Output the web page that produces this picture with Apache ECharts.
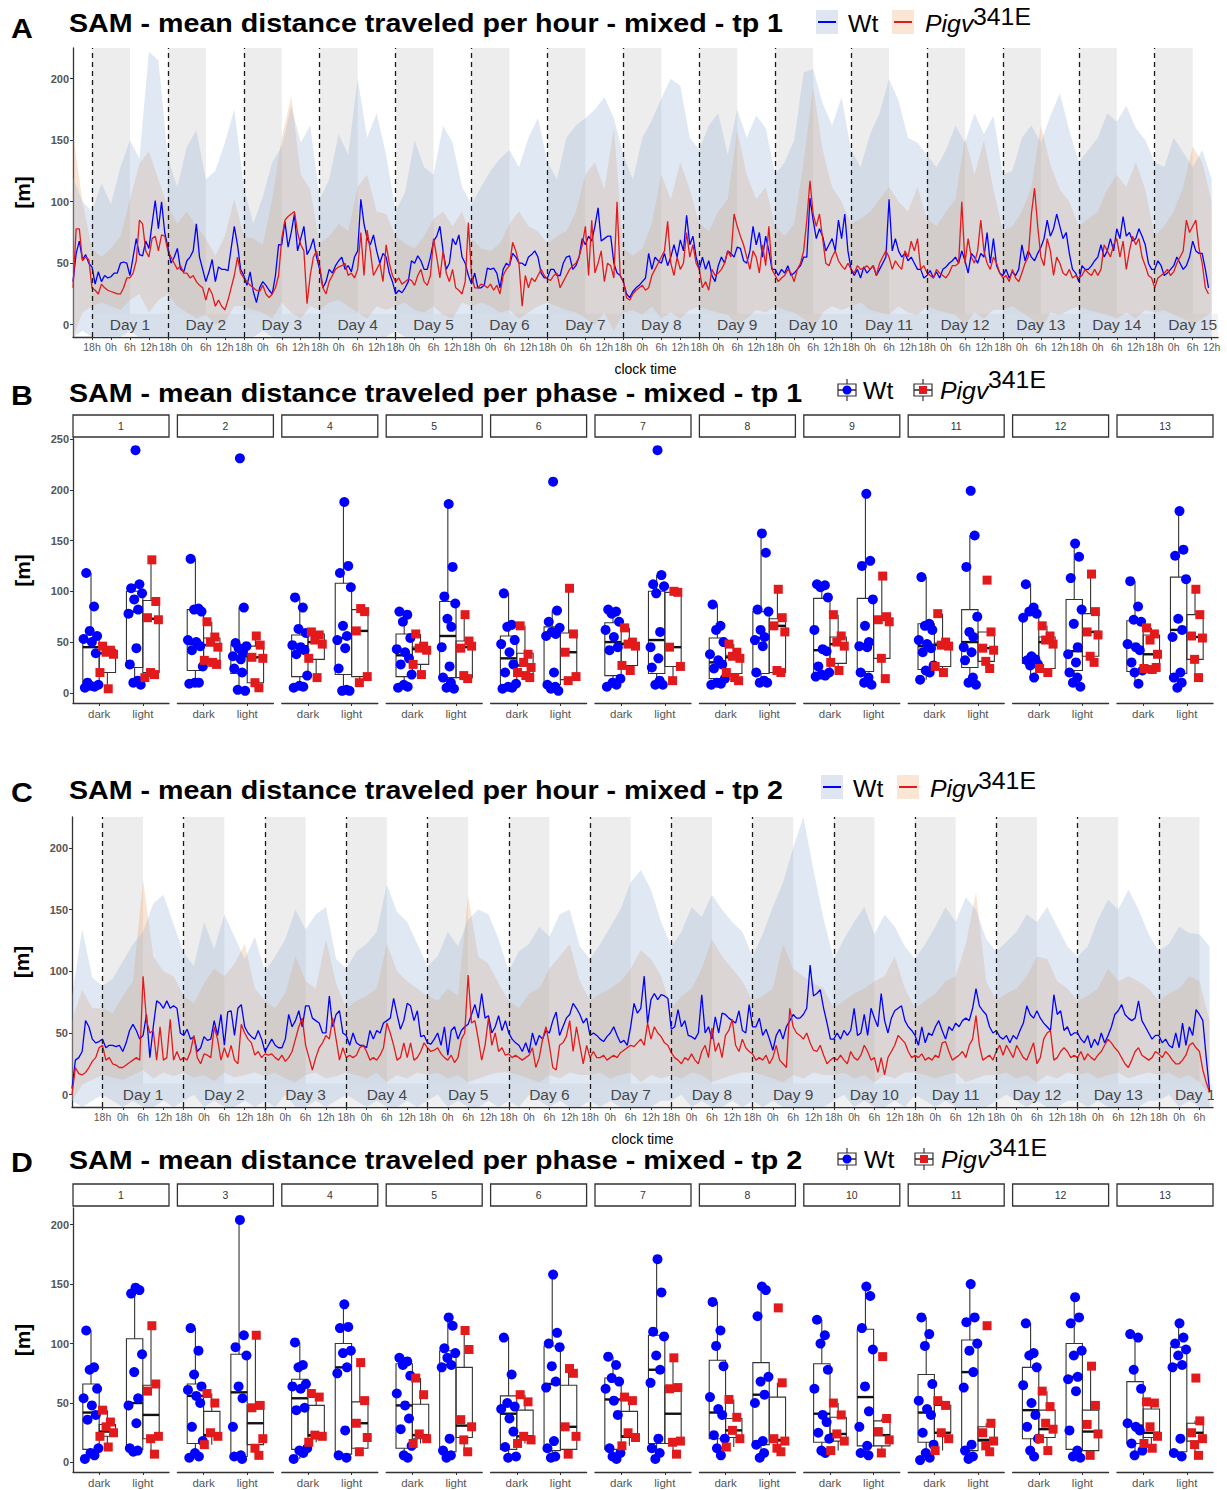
<!DOCTYPE html>
<html><head><meta charset="utf-8">
<script src="https://cdn.jsdelivr.net/npm/echarts@6/dist/echarts.min.js"></script>
<style>html,body{margin:0;padding:0;background:#fff}#c{width:1227px;height:1490px}</style>
</head><body><div id="c"></div>
<script>
// ---------------- DATA ----------------
const clockLabels = ['18h','0h','6h','12h'];
const dayLabels = ['Day 1','Day 2','Day 3','Day 4','Day 5','Day 6','Day 7','Day 8','Day 9','Day 10','Day 11','Day 12','Day 13','Day 14','Day 15'];
const phaseLabels = ['dark','light'];
const titles = ['SAM - mean distance traveled per hour - mixed - tp 1','SAM - mean distance traveled per phase - mixed - tp 1','SAM - mean distance traveled per hour - mixed - tp 2','SAM - mean distance traveled per phase - mixed - tp 2'];

// Panel A: hourly means, first value at hour -6 (hours counted from 18h of Day 1)
const A_t0 = -6;
const A_wt = [35,58,68,53,57,50,
47,33,43,35,40,38,39,42,42,50,51,50,40,55,70,57,56,68,62,82,101,78,100,75,
63,50,55,62,45,43,52,55,60,82,55,45,35,43,53,35,47,45,45,44,62,80,65,45,
40,32,43,27,18,30,35,32,28,25,40,65,65,84,63,75,90,60,70,80,57,62,70,55,
45,30,35,45,42,48,52,55,45,48,43,55,60,102,82,70,65,73,60,50,58,55,42,35,
25,28,26,30,35,52,50,56,52,45,45,55,68,72,80,60,45,50,70,65,73,55,50,40,
33,42,30,30,32,46,45,46,42,30,45,50,48,58,55,50,50,48,55,57,60,55,42,38,
38,45,45,40,40,50,55,56,45,48,55,70,65,72,68,80,95,68,70,72,72,50,42,40,
35,25,22,27,30,32,35,38,58,45,55,52,50,58,48,55,65,55,69,60,89,65,72,55,
45,55,45,52,40,35,48,55,50,60,58,55,63,62,52,50,60,80,65,75,55,72,60,45,
45,40,45,42,48,40,42,45,48,55,55,103,85,70,78,72,60,65,70,60,85,70,90,60,
45,40,45,38,47,42,45,48,40,45,50,55,102,60,70,60,55,58,52,55,50,45,45,38,
40,44,38,43,38,45,47,50,52,55,50,60,52,42,58,55,50,58,55,75,50,70,48,42,
40,45,38,43,40,45,65,52,60,55,52,58,63,70,85,72,78,90,80,70,75,58,45,42,
35,48,45,45,48,52,55,65,55,60,70,60,78,70,88,72,75,68,70,78,72,65,50,45,
45,52,48,40,42,45,48,55,50,45,48,55,68,60,58,58,45,30];
const A_pigv = [30,78,78,52,55,53,
30,28,25,33,30,28,27,26,25,25,30,38,38,42,52,85,82,60,55,70,72,60,73,72,
60,55,50,45,48,42,42,38,40,35,32,30,20,30,25,15,20,15,12,20,30,40,55,42,
38,35,32,30,28,27,32,25,22,25,30,40,70,85,88,90,92,75,65,60,17,40,55,60,
48,30,25,35,40,45,47,48,50,40,42,38,45,75,40,77,60,40,45,50,35,65,50,40,
35,38,33,35,37,36,32,40,45,35,32,40,70,55,38,60,42,35,45,30,28,25,35,83,
40,30,30,33,32,30,33,28,32,25,40,45,48,67,60,50,15,40,30,38,35,40,45,40,
37,36,40,42,30,35,40,45,48,50,55,65,80,40,85,42,50,60,35,50,48,38,100,40,
35,22,20,25,28,30,32,28,30,40,45,50,55,60,84,50,40,55,45,50,75,55,65,50,
45,30,35,28,45,40,42,45,50,60,55,90,80,72,65,55,45,60,55,42,65,48,80,45,
40,35,38,40,45,42,35,45,50,60,85,117,90,80,90,70,50,48,55,60,52,48,45,50,
45,42,48,45,46,48,45,48,40,50,55,60,55,45,52,48,45,60,55,68,60,70,45,48,
42,40,38,45,42,40,38,42,48,48,50,100,50,70,55,50,60,85,60,50,45,55,50,42,
38,40,35,45,38,35,42,50,55,90,111,80,55,48,70,60,40,55,50,42,40,45,38,40,
38,40,45,42,40,45,40,45,65,60,55,65,70,55,68,45,60,72,65,70,55,48,40,38,
30,38,40,42,45,40,43,50,55,60,85,75,80,85,62,50,30,25];
// Panel A ribbons: every 3 hours from hour -6
const A_rib_t0 = -6;
const A_wt_hi = [120,100,
92,115,98,128,150,135,222,215, 135,112,145,158,118,125,148,175, 112,82,104,132,145,178,148,162,
102,118,155,138,200,152,172,138, 92,108,150,128,122,162,148,112, 98,112,125,135,142,128,152,168,
132,118,152,162,168,175,185,168, 138,118,152,166,184,200,194,152, 142,162,172,138,175,152,170,160,
122,132,150,205,208,180,162,185, 142,128,155,172,200,182,152,148, 138,128,142,162,148,172,155,170,
122,125,152,162,148,170,188,158, 132,142,152,172,165,178,160,150, 132,128,152,140,128,142,118];
const A_wt_lo = [-15,-5,
-20,-25,-30,-25,-5,-30,-40,-35, -30,-20,-25,-35,-15,-20,-30,-10, -25,-15,-5,-20,-25,-35,-30,-30,
-20,-25,-30,-25,-40,-30,-35,-25, -5,-20,-35,-25,-20,-30,-35,-20, -25,-20,-25,-30,-25,-20,-25,-30,
-20,-25,-30,-35,-30,-25,-35,-30, -25,-10,-20,-25,-30,-35,-40,-30, -30,-25,-20,-15,-25,-30,-35,-30,
-20,-25,-30,-35,-40,-35,-30,-35, -20,-25,-30,-35,-40,-30,-25,-30, -25,-20,-25,-30,-20,-30,-25,-30,
-20,-15,-25,-30,-25,-30,-35,-25, -20,-25,-30,-35,-30,-35,-30,-25, -20,-25,-30,-25,-30,-25,-20];
const A_pigv_hi = [155,100,
62,55,62,72,102,131,141,118, 96,82,92,80,70,56,72,102, 72,70,65,102,152,186,122,110,
66,72,82,76,112,122,92,90, 72,66,62,72,86,92,80,92, 70,62,60,66,82,92,80,76,
66,72,76,92,122,132,110,160, 62,56,62,82,122,102,132,110, 82,76,92,102,158,122,102,112,
80,72,82,132,194,142,112,100, 82,86,92,102,112,100,92,112, 86,80,92,102,152,122,150,110,
76,80,92,112,162,130,110,100, 80,86,92,110,122,112,132,110, 72,80,92,112,145,132,100];
const A_pigv_lo = [-10,10,
15,18,15,12,20,25,10,20, 25,15,10,5,8,0,2,15, 15,12,10,5,18,10,5,15,
12,18,20,15,10,5,15,12, 15,18,12,10,15,8,5,18, 15,18,15,10,12,5,10,15,
18,15,12,10,5,0,10,-5, 10,12,8,15,5,10,5,12, 15,12,10,8,0,5,12,10,
15,12,10,5,-5,10,15,12, 15,18,12,10,8,15,10,8, 15,12,10,8,0,10,5,12,
12,15,10,5,-5,10,8,12, 15,12,10,8,5,10,5,12, 10,12,8,5,0,5,10];

// Panel C: hourly means, first value at hour -9
const C_t0 = -9;
const C_wt = [5,28,30,35,60,55,45,42,43,
45,38,40,40,39,40,35,42,52,57,52,45,48,65,30,55,76,74,70,76,70,72,70,50,
48,53,45,47,35,38,47,44,45,60,48,65,40,67,68,48,70,73,55,50,47,45,52,45,
35,40,45,40,38,38,45,65,55,60,68,55,72,72,62,60,58,50,50,80,55,65,68,50,
48,40,50,42,40,40,38,52,45,52,50,58,60,62,78,65,53,60,74,72,60,68,47,48,
42,41,45,50,40,55,32,52,55,45,52,55,57,65,73,62,82,62,64,50,55,64,52,60,
50,45,42,40,35,42,34,50,40,48,45,52,50,60,67,48,55,62,65,74,70,65,58,62,
48,50,48,45,43,47,50,55,48,42,44,40,55,74,66,70,96,58,77,82,77,81,80,78,
53,55,69,55,60,48,47,45,50,81,50,55,45,63,50,66,65,62,60,58,68,52,50,73,
55,55,62,48,53,45,36,48,53,45,55,60,65,62,62,65,70,105,80,82,85,70,58,45,
45,50,45,52,48,52,70,48,50,65,48,70,62,55,82,60,50,62,68,70,72,60,55,52,
48,40,55,42,50,48,55,60,52,45,55,52,58,55,60,62,60,70,86,72,68,65,55,50,
52,47,45,48,42,48,45,52,58,72,65,62,68,62,58,55,52,81,65,68,52,55,48,50,
50,45,42,48,38,45,40,50,42,48,55,65,68,73,65,62,60,62,76,60,55,50,45,48,
48,42,45,40,38,50,38,58,40,55,48,69,65,60,30,3];
const C_pigv = [0,22,17,16,18,22,27,30,38,
40,28,30,25,24,22,22,24,26,28,30,28,96,60,50,52,28,55,28,30,61,28,35,28,
30,28,35,48,30,25,33,32,30,55,45,28,38,30,40,28,25,57,50,45,42,32,35,30,
33,32,33,30,28,32,27,30,35,45,55,62,40,30,20,30,38,42,48,45,62,45,28,38,
30,32,30,32,38,40,35,28,30,28,32,38,58,50,40,28,30,42,30,42,28,30,35,42,
38,35,36,38,33,30,28,32,26,30,45,50,97,58,60,45,28,40,62,40,50,35,38,32,
33,30,32,30,28,30,32,38,22,30,45,55,40,22,20,40,42,47,60,35,55,40,25,40,
30,35,30,30,32,28,30,32,30,34,36,38,40,39,42,45,40,58,45,55,50,47,42,40,
34,30,28,25,30,28,33,28,25,35,40,30,54,35,42,30,48,52,61,40,35,45,38,35,
33,28,30,28,32,25,30,40,28,25,22,70,55,50,48,45,50,42,36,35,40,32,25,28,
30,28,32,28,25,35,30,28,32,40,35,28,30,18,30,16,30,35,40,48,45,42,35,30,
32,30,33,28,30,28,32,30,42,43,35,28,30,32,35,30,40,45,64,40,28,30,32,28,
35,40,32,40,35,30,40,35,30,28,35,42,25,30,45,50,52,28,30,35,38,35,30,32,
30,35,28,33,30,28,32,35,40,45,42,38,35,30,25,22,28,35,38,32,30,28,30,35,
33,30,35,32,28,25,25,28,32,40,42,38,35,20,10,2];
// Panel C ribbons: every 3 hours from hour -9
const C_rib_t0 = -9;
const C_wt_hi = [80,134,95,
88,94,108,122,132,155,162,138, 115,104,140,118,146,128,110,128, 100,112,126,150,134,146,152,110,
102,116,122,132,170,148,140,122, 104,112,132,120,142,150,146,126, 100,116,122,136,128,146,150,120,
110,122,136,150,172,182,166,140, 120,132,152,144,162,150,140,132, 112,130,152,172,200,230,182,142,
110,126,140,152,130,146,136,120, 110,122,136,152,140,160,150,126, 116,124,132,146,140,152,136,120,
112,120,142,158,150,166,150,130, 116,122,136,131,130,120];
const C_wt_lo = [-5,-10,-5,
0,-5,-10,-5,-15,-10,-5,-10, -5,0,-10,-5,-15,-10,-5,-10, -5,-10,0,-10,-15,-5,-10,-5,
0,-5,-10,-5,-15,-10,-5,-10, -5,0,-10,-5,-10,-15,-5,-10, -5,-10,0,-5,-10,-5,-15,-10,
-5,-10,-5,-15,-10,-20,-10,-5, -5,0,-10,-5,-15,-10,-5,-10, -5,-10,-5,-15,-20,-25,-15,-10,
-5,0,-10,-5,-10,-15,-5,-10, 0,-5,-10,-5,-10,-15,-20,-10, -5,0,-5,-10,-5,-15,-10,-5,
-5,-10,-5,-10,-15,-10,-15,-5, -5,0,-10,-5,-10,-15];
const C_pigv_hi = [60,85,70,
70,66,80,92,174,112,100,96, 80,74,90,102,96,106,122,86, 76,70,82,112,92,86,126,90,
70,76,80,86,122,100,92,86, 80,76,86,80,161,112,106,90, 76,70,82,86,102,112,122,92,
76,82,86,92,102,117,110,96, 70,80,86,102,126,112,102,92, 76,80,86,122,102,96,90,86,
70,76,82,86,92,96,112,86, 70,76,82,92,96,122,164,92, 76,82,86,96,112,110,92,86,
76,80,86,102,92,96,92,86, 76,82,86,96,92,60];
const C_pigv_lo = [-5,8,12,
16,14,12,16,20,13,18,15, 18,14,16,11,18,14,16,18, 15,18,13,10,16,18,13,15,
18,16,13,18,10,16,13,18, 16,18,13,16,10,13,16,18, 18,16,13,10,16,13,18,16,
16,18,13,16,18,10,16,13, 16,13,18,16,10,13,16,18, 18,16,13,10,16,13,18,16,
16,18,13,16,10,16,13,18, 18,16,13,16,18,10,13,16, 16,18,13,16,10,16,13,18,
16,18,13,16,18,13,16,18, 16,18,13,16,10,0];

// Panel B (tp 1): facets, box statistics [min, q1, median, q3, max] and individual values
const B_facets = ['1','2','4','5','6','7','8','9','11','12','13'];
const B_wt_dark_stats = [[5,9,45,57,118],[9,22,48,82,132],[5,16,46,57,94],[5,16,37,58,80],[4,8,34,56,98],[6,17,50,69,82],[8,14,30,54,87],[15,19,42,93,107],[13,23,46,68,114],[15,29,34,78,107],[9,21,45,71,110]];
const B_wt_light_stats = [[8,25,80,100,107],[2,19,36,47,84],[2,18,54,108,188],[4,15,56,90,186],[2,8,57,65,81],[8,19,52,100,116],[10,19,54,80,157],[8,21,48,93,196],[8,25,50,82,155],[6,22,41,92,147],[5,19,62,114,179]];
const B_pigv_dark_stats = [[4,20,39,43,46],[28,32,47,54,70],[15,33,50,58,60],[18,28,43,45,58],[15,19,27,39,66],[22,27,48,49,64],[12,19,35,37,48],[20,29,48,55,77],[20,26,47,49,78],[20,24,50,55,66],[23,24,38,57,64]];
const B_pigv_light_stats = [[15,20,73,91,131],[5,10,35,46,56],[10,16,61,82,83],[14,15,45,51,77],[11,13,40,59,103],[12,26,45,99,100],[20,20,66,73,102],[14,34,72,75,115],[24,31,44,60,60],[30,36,60,78,117],[15,33,55,77,102]];
const B_wt_dark_pts = [[118,85,61,56,53,50,39,10,8,7,6,5],[132,83,82,80,52,50,46,42,26,10,10,9],[94,84,63,59,47,45,42,38,17,7,6,5],[80,77,70,54,43,40,34,28,18,8,6,5],[98,67,65,52,48,40,28,20,9,6,5,4],[82,80,78,70,62,55,45,42,14,10,8,6],[87,66,62,50,38,32,28,24,14,10,9,8],[107,106,104,94,62,43,41,26,20,18,17,16],[114,68,66,62,52,48,44,40,27,22,20,13],[107,84,80,78,74,36,33,32,28,27,15],[110,85,72,70,48,45,42,30,22,20,9]];
const B_wt_light_pts = [[239,107,103,98,92,82,78,44,28,12,10,8],[231,84,49,46,44,40,36,33,24,20,3,2],[188,125,118,104,66,56,52,44,24,3,2,2],[186,124,95,88,73,65,45,26,15,10,5,4],[208,81,70,64,60,58,56,20,8,6,4,2],[239,116,107,105,98,60,45,34,25,12,8,8],[157,138,82,80,62,55,52,46,20,12,10,10],[196,130,125,92,66,50,46,45,20,15,10,8],[199,155,124,75,60,55,45,40,32,15,10,8],[147,134,113,82,68,45,38,30,20,15,10,6],[179,141,135,112,73,62,55,20,15,10,5]];
const B_pigv_dark_pts = [[46,42,40,38,20,4],[70,55,50,45,32,30,28],[60,57,52,48,34,15],[58,46,44,42,28,18],[66,38,30,25,20,17,15],[64,50,48,46,27,22],[48,40,36,34,20,15,12],[77,56,50,46,30,22],[78,50,47,46,26,20],[66,56,52,48,24,20],[64,58,52,38,24,23,25]];
const B_pigv_light_pts = [[131,90,74,72,20,18,15],[56,47,35,34,10,5],[83,80,61,16,10],[77,51,44,46,17,14],[103,58,40,16,12],[100,99,45,26,12],[102,74,66,60,22,20],[115,75,72,70,34,14],[111,60,44,42,31,24],[117,80,60,57,36,30],[102,77,56,54,33,15]];

// Panel D (tp 2)
const D_facets = ['1','3','4','5','6','7','8','10','11','12','13'];
const D_wt_dark_stats = [[3,11,42,66,111],[4,16,56,66,113],[3,11,54,70,101],[4,12,48,83,88],[4,11,41,56,105],[3,11,53,71,89],[6,20,42,86,135],[8,17,41,83,120],[2,17,42,74,122],[5,20,44,80,117],[6,16,31,68,108]];
const D_wt_light_stats = [[8,11,50,104,147],[3,5,59,91,204],[4,7,80,100,133],[4,9,82,94,122],[4,10,66,98,158],[3,16,78,107,171],[4,15,57,84,148],[6,14,55,112,148],[3,10,76,103,150],[4,11,72,100,139],[5,9,82,97,117]];
const D_pigv_dark_stats = [[13,22,26,32,44],[15,22,23,43,58],[17,22,23,48,58],[16,20,23,49,71],[16,19,22,44,57],[14,21,22,43,55],[13,21,27,37,53],[10,18,24,38,50],[10,25,25,48,52],[10,21,28,44,60],[12,21,25,45,51]];
const D_pigv_light_stats = [[7,20,40,65,115],[6,15,33,48,107],[8,12,33,51,84],[9,21,31,80,111],[7,11,30,65,79],[7,16,41,64,88],[9,18,19,55,67],[8,14,23,35,37],[9,18,19,30,33],[6,10,26,44,81],[6,18,25,33,35]];
const D_wt_dark_pts = [[111,80,78,62,54,48,40,36,12,8,6,3],[113,94,74,64,61,56,50,30,18,8,5,4],[101,82,80,66,64,62,46,44,12,10,8,3],[88,85,82,73,58,48,37,28,14,6,4],[105,74,50,47,45,37,26,13,5,4],[89,82,71,68,62,52,40,12,8,5,3],[135,111,98,81,55,45,40,23,20,12,6],[120,107,100,78,62,40,34,25,20,10,8],[122,108,98,66,52,45,40,25,15,8,4,2],[117,92,90,80,65,50,40,30,20,10,5],[108,105,78,62,33,30,27,16,10,6]];
const D_wt_light_pts = [[147,145,142,91,76,54,48,33,12,10,9],[204,107,97,90,64,54,30,6,5,3],[133,114,113,94,92,80,75,27,6,4],[122,115,96,92,88,82,80,20,10,6,4],[158,109,100,97,81,68,63,18,12,5,4],[171,143,110,106,90,78,67,20,12,8,3],[148,145,123,72,68,57,50,18,15,8,4],[148,140,113,95,64,43,30,14,8,6],[150,122,118,100,94,76,63,15,10,5,3],[139,122,117,94,90,72,70,60,27,10,5,4],[117,105,100,95,90,82,80,20,8,5]];
const D_pigv_dark_pts = [[44,34,30,25,22,13],[58,50,25,22,15],[58,55,23,22,17],[71,57,24,20,16],[57,51,22,19,16],[55,52,25,21,14],[53,38,27,20,13],[50,40,24,18,10],[52,48,25,20,10],[60,47,33,28,20,10],[51,50,30,22,16,12]];
const D_pigv_light_pts = [[115,66,60,22,20,7],[107,48,46,20,12,6],[84,52,33,21,9],[111,95,36,30,19,9],[79,75,30,22,7],[88,63,62,18,17,7],[130,67,20,18,12,9],[89,37,26,19,8],[115,33,25,18,14,9],[81,48,32,24,6],[71,35,25,20,15,6]];

// ---------------- STYLE / LAYOUT ----------------
const FF = '"Liberation Sans", Arial, Helvetica, sans-serif';
const BLUE = '#0000ff', RED = '#e31a1c';
const JIT = [-0.55,0.35,-0.15,0.7,-0.85,0.1,0.55,-0.4,0.85,-0.05,0.4,-0.7,0.2];
const option = {animation:false, textStyle:{fontFamily:FF}, grid:[], xAxis:[], yAxis:[], series:[], graphic:[]};
const G = option.graphic;

function T(x, y, text, size, o) {
  o = o || {};
  return {type:'text', x:x, y:y, scaleX:(o.sx==null?1.08:o.sx), z:100,
    style:{text:text, fontSize:size, fontWeight:o.bold?'bold':'normal', fontStyle:o.italic?'italic':'normal',
      fontFamily:FF, fill:o.color||'#000', align:o.align||'left', verticalAlign:'middle'}};
}

// ribbon drawn as one polygon between lower and upper values (rendering clamped to the axis range)
function ribbonSeries(gi, t0, lo, hi, color, ymin, ymax) {
  const rows = lo.map((v, i) => [t0 + 3 * i, v, hi[i]]);
  const cl = v => Math.max(ymin, Math.min(ymax, v));
  return {type:'custom', xAxisIndex:gi, yAxisIndex:gi, silent:true, z:2, data:rows, encode:{x:0, y:[1,2]},
    renderItem:function (params, api) {
      if (params.dataIndex !== 0) return null;
      const pts = [];
      rows.forEach(r => pts.push(api.coord([r[0], cl(r[2])])));
      for (let i = rows.length - 1; i >= 0; i--) pts.push(api.coord([rows[i][0], cl(rows[i][1])]));
      return {type:'polygon', shape:{points:pts}, style:{fill:color}};
    }};
}

function addTS(L, wt, pigv, t0, rt0, wlo, whi, plo, phi) {
  const gi = option.grid.length;
  option.grid.push({left:L.left, top:L.top, width:L.width, height:L.height, containLabel:false, outerBoundsMode:'none'});
  const days = dayLabels.slice(0, L.ndays).map((d, i) => i * 24);
  const ticks = [];
  days.forEach(d => { for (let k = 0; k < 4; k++) { const v = d + 6 * k; if (v <= L.xmax) ticks.push(v); } });
  const yt = [0,50,100,150,200];
  option.xAxis.push({gridIndex:gi, type:'value', min:L.xmin, max:L.xmax,
    axisLine:{show:true, onZero:false, lineStyle:{color:'#333', width:1.3}},
    axisTick:{show:true, customValues:ticks, length:3, lineStyle:{color:'#333'}},
    axisLabel:{show:true, customValues:ticks, formatter:v => clockLabels[(((v % 24) + 24) % 24) / 6], color:'#5a5a5a', fontSize:10.5, margin:4, fontFamily:FF},
    splitLine:{show:false}, name:'clock time', nameLocation:'middle', nameGap:25,
    nameTextStyle:{fontSize:14, color:'#000', fontFamily:FF}});
  option.yAxis.push({gridIndex:gi, type:'value', min:-10, max:225,
    axisLine:{show:true, onZero:false, lineStyle:{color:'#333', width:1.3}},
    axisTick:{show:true, customValues:yt, length:3, lineStyle:{color:'#333'}},
    axisLabel:{show:true, customValues:yt, color:'#555', fontSize:11, fontWeight:'bold', margin:4, fontFamily:FF},
    splitLine:{show:false}, name:'[m]', nameLocation:'middle', nameGap:40,
    nameTextStyle:{fontSize:21, fontWeight:'bold', color:'#000', fontFamily:FF}});
  const base = {xAxisIndex:gi, yAxisIndex:gi, silent:true, symbol:'none'};
  const carrier = [[L.xmin, 0]];
  // dark phase shading
  option.series.push(Object.assign({}, base, {type:'line', data:carrier, lineStyle:{opacity:0}, z:1,
    markArea:{silent:true, itemStyle:{color:'#ededed'}, data:days.map(d => [{xAxis:d}, {xAxis:Math.min(d + 12, L.xmax)}])}}));
  // ribbons (Pigv underneath, Wt on top)
  option.series.push(ribbonSeries(gi, rt0, plo, phi, 'rgba(235,150,85,0.25)', -10, 225));
  option.series.push(ribbonSeries(gi, rt0, wlo, whi, 'rgba(150,178,215,0.30)', -10, 225));
  // mean lines
  option.series.push(Object.assign({}, base, {type:'line', name:'Wt', data:wt.map((v, i) => [t0 + i, v]), lineStyle:{color:BLUE, width:1.3}, z:3}));
  option.series.push(Object.assign({}, base, {type:'line', name:'Pigv', data:pigv.map((v, i) => [t0 + i, v]), lineStyle:{color:RED, width:1.3}, z:3}));
  // day boundaries
  option.series.push(Object.assign({}, base, {type:'line', data:carrier, lineStyle:{opacity:0}, z:4,
    markLine:{silent:true, symbol:['none','none'], label:{show:false}, lineStyle:{color:'#1a1a1a', type:[5,4], width:1.3},
      data:days.map(d => ({xAxis:d}))}}));
  // day label strips
  option.series.push(Object.assign({}, base, {type:'line', data:carrier, lineStyle:{opacity:0}, z:5,
    markArea:{silent:true, itemStyle:{color:'rgba(240,240,240,0.82)'}, data:days.map(d => [{xAxis:d, yAxis:-10}, {xAxis:Math.min(d + 24, L.xmax), yAxis:9}])}}));
  // day labels
  option.series.push({type:'scatter', xAxisIndex:gi, yAxisIndex:gi, silent:true, symbolSize:0, z:6,
    data:days.map((d, i) => ({name:dayLabels[i], value:[d + 12, 0]})),
    label:{show:true, position:'inside', formatter:'{b}', fontSize:15.5, color:'#1a1a1a', fontFamily:FF}});
  // clip label overflow at right edge
  G.push({type:'rect', z:90, shape:{x:L.left + L.width + 1, y:L.top + L.height - 30, width:40, height:29}, style:{fill:'#fff'}});
}

function boxSeries(gi, data, off) {
  return {type:'custom', xAxisIndex:gi, yAxisIndex:gi, silent:true, z:3, data:data, encode:{x:0, y:[1,2,3,4,5]},
    renderItem:function (params, api) {
      const x = api.value(0) + off, hw = 0.1875;
      const mn = api.value(1), q1 = api.value(2), md = api.value(3), q3 = api.value(4), mx = api.value(5);
      const a = api.coord([x - hw, q3]), b = api.coord([x + hw, q1]);
      const t = api.coord([x, mx]), u = api.coord([x, q3]), l = api.coord([x, q1]), m = api.coord([x, mn]);
      const ml = api.coord([x - hw, md]), mr = api.coord([x + hw, md]);
      const st = {stroke:'#333', lineWidth:1.1};
      return {type:'group', children:[
        {type:'line', shape:{x1:t[0], y1:t[1], x2:u[0], y2:u[1]}, style:st},
        {type:'line', shape:{x1:l[0], y1:l[1], x2:m[0], y2:m[1]}, style:st},
        {type:'rect', shape:{x:a[0], y:a[1], width:b[0] - a[0], height:b[1] - a[1]}, style:{stroke:'#333', lineWidth:1.1, fill:'none'}},
        {type:'line', shape:{x1:ml[0], y1:ml[1], x2:mr[0], y2:mr[1]}, style:{stroke:'#111', lineWidth:2.4}}
      ]};
    }};
}
function pointSeries(gi, dark, light, off, symbol, size, color) {
  const data = [];
  dark.forEach((v, j) => data.push([1 + off + JIT[j % JIT.length] * 0.2, v]));
  light.forEach((v, j) => data.push([2 + off + JIT[(j + 5) % JIT.length] * 0.2, v]));
  return {type:'scatter', xAxisIndex:gi, yAxisIndex:gi, silent:true, z:4, data:data, symbol:symbol, symbolSize:size, itemStyle:{color:color, opacity:1}};
}
function addFacets(L, facets, S) {
  facets.forEach((lab, i) => {
    const gi = option.grid.length;
    const left = L.left0 + i * L.step;
    option.grid.push({left:left, top:L.top, width:L.fw, height:L.height, containLabel:false, outerBoundsMode:'none'});
    option.xAxis.push({gridIndex:gi, type:'value', min:0.4, max:2.6,
      axisLine:{show:true, onZero:false, lineStyle:{color:'#333', width:1.3}},
      axisTick:{show:true, customValues:[1,2], length:3, lineStyle:{color:'#333'}},
      axisLabel:{show:true, customValues:[1,2], formatter:v => phaseLabels[v - 1], color:'#555', fontSize:11.5, margin:5, fontFamily:FF},
      splitLine:{show:false}});
    const first = i === 0;
    option.yAxis.push({gridIndex:gi, type:'value', min:L.ymin, max:L.ymax,
      axisLine:{show:first, onZero:false, lineStyle:{color:'#333', width:1.3}},
      axisTick:{show:first, customValues:L.yticks, length:3, lineStyle:{color:'#333'}},
      axisLabel:{show:first, customValues:L.yticks, color:'#555', fontSize:11, fontWeight:'bold', margin:4, fontFamily:FF},
      splitLine:{show:false}, name:first ? '[m]' : '', nameLocation:'middle', nameGap:40,
      nameTextStyle:{fontSize:21, fontWeight:'bold', color:'#000', fontFamily:FF}});
    option.series.push(boxSeries(gi, [[1].concat(S.wd[i]), [2].concat(S.wl[i])], -0.1875));
    option.series.push(boxSeries(gi, [[1].concat(S.pd[i]), [2].concat(S.pl[i])], 0.1875));
    option.series.push(pointSeries(gi, S.wdp[i], S.wlp[i], -0.1875, 'circle', 10, BLUE));
    option.series.push(pointSeries(gi, S.pdp[i], S.plp[i], 0.1875, 'rect', 9, RED));
    G.push({type:'rect', z:50, shape:{x:left, y:L.stripTop, width:L.fw, height:22}, style:{fill:'#fff', stroke:'#333', lineWidth:1.3}});
    G.push(T(left + L.fw / 2, L.stripTop + 11, lab, 10.5, {sx:1, align:'center', color:'#333'}));
  });
}

function legendLines(L) {
  G.push({type:'rect', z:99, shape:{x:L.k1, y:L.ky, width:22, height:24}, style:{fill:'#dfe6f1'}});
  G.push({type:'line', z:100, shape:{x1:L.k1 + 2, y1:L.ky + 12, x2:L.k1 + 20, y2:L.ky + 12}, style:{stroke:BLUE, lineWidth:2}});
  G.push({type:'rect', z:99, shape:{x:L.k2, y:L.ky, width:22, height:24}, style:{fill:'#fbe6d5'}});
  G.push({type:'line', z:100, shape:{x1:L.k2 + 2, y1:L.ky + 12, x2:L.k2 + 20, y2:L.ky + 12}, style:{stroke:RED, lineWidth:2}});
  G.push(T(L.w, L.ty, 'Wt', 23));
  G.push(T(L.p, L.ty, 'Pigv', 23, {italic:true}));
  G.push(T(L.s, L.sy, '341E', 23));
}
function boxIcon(cx, cy, wt) {
  G.push({type:'line', z:99, shape:{x1:cx, y1:cy - 11, x2:cx, y2:cy + 11}, style:{stroke:'#333', lineWidth:1.2}});
  G.push({type:'rect', z:99, shape:{x:cx - 9, y:cy - 6, width:18, height:12}, style:{fill:'#fff', stroke:'#333', lineWidth:1.2}});
  G.push({type:'line', z:99, shape:{x1:cx - 9, y1:cy, x2:cx + 9, y2:cy}, style:{stroke:'#333', lineWidth:1.6}});
  if (wt) G.push({type:'circle', z:100, shape:{cx:cx, cy:cy, r:4.5}, style:{fill:BLUE}});
  else G.push({type:'rect', z:100, shape:{x:cx - 4, y:cy - 4, width:8, height:8}, style:{fill:RED}});
}
function legendBoxes(L) {
  boxIcon(L.i1, L.iy, true); boxIcon(L.i2, L.iy, false);
  G.push(T(L.w, L.ty, 'Wt', 23));
  G.push(T(L.p, L.ty, 'Pigv', 23, {italic:true}));
  G.push(T(L.s, L.sy, '341E', 23));
}

// Panel A
addTS({left:73, top:48, width:1145, height:289, xmin:-6, xmax:356, ndays:15}, A_wt, A_pigv, A_t0, A_rib_t0, A_wt_lo, A_wt_hi, A_pigv_lo, A_pigv_hi);
// Panel C
addTS({left:72, top:817, width:1141, height:290, xmin:-9, xmax:328, ndays:14}, C_wt, C_pigv, C_t0, C_rib_t0, C_wt_lo, C_wt_hi, C_pigv_lo, C_pigv_hi);
// Panel B
addFacets({left0:73, step:104.4, fw:96, top:438, height:265, stripTop:415, ymin:-10, ymax:251, yticks:[0,50,100,150,200,250]}, B_facets,
  {wd:B_wt_dark_stats, wl:B_wt_light_stats, pd:B_pigv_dark_stats, pl:B_pigv_light_stats, wdp:B_wt_dark_pts, wlp:B_wt_light_pts, pdp:B_pigv_dark_pts, plp:B_pigv_light_pts});
// Panel D
addFacets({left0:73, step:104.4, fw:96, top:1208, height:264, stripTop:1184, ymin:-8, ymax:214, yticks:[0,50,100,150,200]}, D_facets,
  {wd:D_wt_dark_stats, wl:D_wt_light_stats, pd:D_pigv_dark_stats, pl:D_pigv_light_stats, wdp:D_wt_dark_pts, wlp:D_wt_light_pts, pdp:D_pigv_dark_pts, plp:D_pigv_light_pts});

// titles, panel letters, legends
[['A',28,22.5],['B',395,392.5],['C',792.5,789.5],['D',1162.5,1159.5]].forEach((r, i) => {
  G.push(T(11, r[1], r[0], 28, {bold:true}));
  G.push(T(69, r[2], titles[i], 26.5, {bold:true}));
});
legendLines({k1:816, k2:892, ky:10, w:848, p:925, s:973, ty:23.5, sy:17});
legendLines({k1:821, k2:897, ky:775, w:853, p:930, s:978, ty:789, sy:781});
legendBoxes({i1:847, i2:923, iy:390, w:863, p:940, s:988, ty:391, sy:379.5});
legendBoxes({i1:847, i2:924, iy:1159, w:864, p:941, s:989, ty:1160, sy:1147.5});

const chart = echarts.init(document.getElementById('c'), null, {renderer:'svg'});
chart.setOption(option);
</script></body></html>
